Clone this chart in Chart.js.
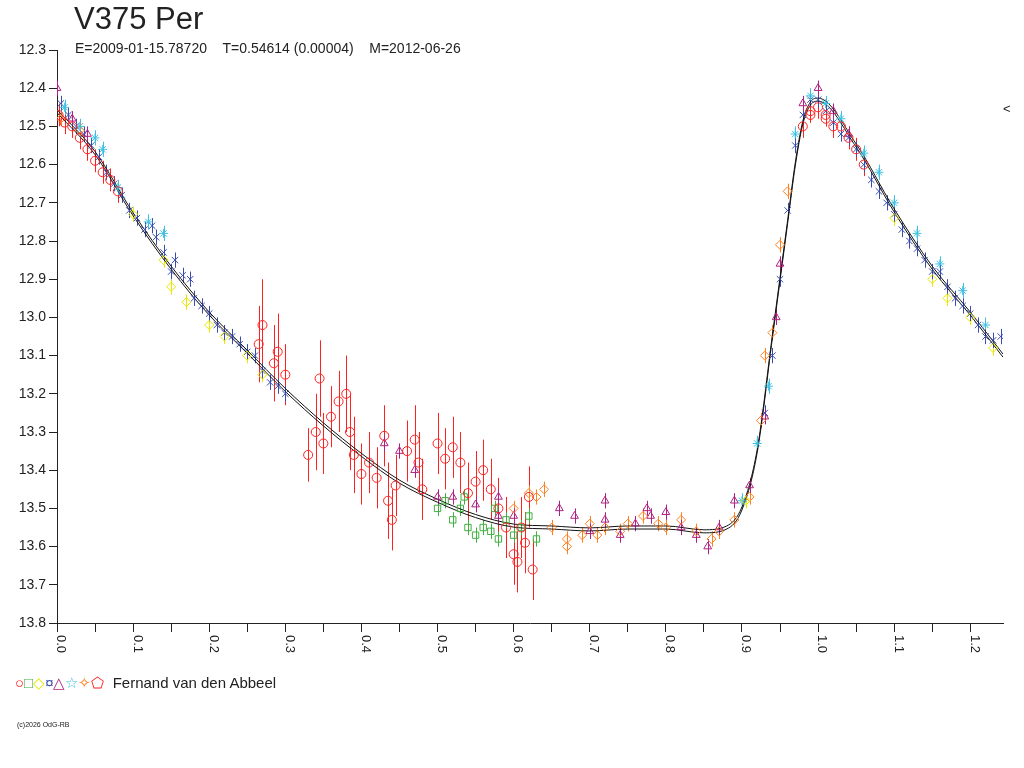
<!DOCTYPE html>
<html>
<head>
<meta charset="utf-8">
<script src="https://cdn.jsdelivr.net/npm/chart.js@4"></script>
<style>
  body { margin: 0; background: #fff; font-family: "Liberation Sans", Arial, sans-serif; color: #222; }
  #wrap { position: relative; width: 1024px; height: 768px; }
  .t { position: absolute; white-space: nowrap; }
</style>
</head>
<body>
<div id="wrap">
  <canvas id="c" width="1024" height="768"></canvas>
  <div class="t" style="left:74px;top:1px;font-size:31px;">V375 Per</div>
  <div class="t" style="left:75px;top:40px;font-size:14px;">E=2009-01-15.78720&nbsp;&nbsp;&nbsp;&nbsp;T=0.54614 (0.00004)&nbsp;&nbsp;&nbsp;&nbsp;M=2012-06-26</div>
  <div class="t" style="left:1003px;top:101px;font-size:13px;">&lt;</div>
  <div class="t" style="left:15px;top:674px;font-size:15px;">
    <span style="color:#ff2020">○</span><span style="color:#40b040">□</span><span style="color:#e8e800">◇</span><span style="color:#3a4cb0">¤</span><span style="color:#b02080">△</span><span style="color:#40c0e0">☆</span><span style="color:#ff8020">✧</span><span style="color:#ff2020">⬠</span>
    <span style="color:#222;margin-left:4px;">Fernand van den Abbeel</span></div>
  <div class="t" style="left:17px;top:721px;font-size:7px;">(c)2026 OdG-RB</div>
</div>
<script>
const xLabels = ['0.0','0.1','0.2','0.3','0.4','0.5','0.6','0.7','0.8','0.9','1.0','1.1','1.2'];

const fitPhase = [0.0,0.05,0.1,0.15,0.2,0.25,0.3,0.35,0.4,0.45,0.5,0.55,0.6,0.65,0.7,0.75,0.8,0.85,0.88,0.9,0.92,0.94,0.96,0.97,0.98,0.99,1.0,1.05,1.1,1.15,1.2,1.243];
const fitMag   = [12.46,12.57,12.73,12.87,12.99,13.09,13.19,13.28,13.36,13.43,13.48,13.52,13.545,13.55,13.555,13.55,13.55,13.56,13.55,13.50,13.35,13.05,12.75,12.60,12.49,12.44,12.43,12.55,12.72,12.87,12.99,13.10];
const fitHalfWidth = 0.004;

const redPts = [[0.002,12.47],[0.01,12.49],[0.02,12.5],[0.03,12.53],[0.04,12.56],[0.05,12.59],[0.06,12.62],[0.07,12.64],[0.08,12.67],
  [0.265,13.07],[0.27,13.02],[0.285,13.12],[0.29,13.09],[0.30,13.15],[0.33,13.36],[0.34,13.3],[0.345,13.16],[0.35,13.33],[0.36,13.26],
  [0.37,13.22],[0.38,13.20],[0.385,13.30],[0.39,13.36],[0.40,13.41],[0.41,13.38],[0.42,13.42],[0.43,13.31],[0.435,13.48],[0.44,13.53],
  [0.445,13.44],[0.46,13.35],[0.47,13.32],[0.475,13.38],[0.48,13.45],[0.50,13.33],[0.51,13.37],[0.52,13.34],[0.53,13.38],[0.54,13.46],
  [0.55,13.43],[0.56,13.40],[0.57,13.45],[0.58,13.50],[0.59,13.55],[0.60,13.62],[0.605,13.64],[0.61,13.55],[0.615,13.59],[0.62,13.47],[0.625,13.66],
  [0.98,12.5],[0.99,12.46],[1.0,12.45],[1.01,12.47],[1.02,12.5],[1.03,12.5],[1.04,12.53],[1.05,12.56],[1.06,12.6]];
const redErr = [0.03,0.03,0.03,0.03,0.03,0.03,0.03,0.03,0.03,
  0.1,0.12,0.1,0.1,0.08,0.07,0.1,0.1,0.08,0.08,0.08,0.1,0.1,0.1,0.08,0.08,0.08,0.08,0.1,0.08,0.08,0.08,0.09,0.08,0.08,0.08,0.08,0.08,0.08,
  0.08,0.08,0.08,0.08,0.08,0.08,0.08,0.08,0.08,0.08,0.08,0.08,
  0.03,0.03,0.03,0.03,0.03,0.03,0.03,0.03,0.03];

const bluePts = [[0.005,12.44],[0.015,12.47],[0.025,12.5],[0.035,12.52],[0.045,12.55],[0.055,12.58],[0.065,12.62],[0.075,12.65],[0.085,12.68],
  [0.095,12.72],[0.105,12.74],[0.115,12.77],[0.125,12.76],[0.13,12.79],[0.14,12.83],[0.15,12.88],[0.155,12.85],[0.165,12.89],[0.175,12.9],
  [0.18,12.95],[0.19,12.97],[0.2,12.99],[0.21,13.02],[0.22,13.04],[0.23,13.05],[0.24,13.07],[0.25,13.09],[0.26,13.1],[0.27,13.14],[0.28,13.17],
  [0.29,13.18],[0.3,13.2],[0.93,13.25],[0.94,13.1],[0.95,12.9],[0.96,12.72],[0.97,12.55],[0.98,12.47],[0.99,12.43],[1.0,12.43],[1.01,12.46],
  [1.02,12.49],[1.03,12.52],[1.04,12.53],[1.05,12.56],[1.06,12.6],[1.07,12.64],[1.08,12.67],[1.09,12.7],[1.1,12.73],[1.11,12.77],[1.12,12.8],
  [1.13,12.82],[1.14,12.85],[1.15,12.88],[1.16,12.88],[1.17,12.92],[1.18,12.95],[1.19,12.97],[1.2,12.99],[1.21,13.02],[1.22,13.05],[1.23,13.06],[1.24,13.05]];
const cyanPts = [[0.01,12.45],[0.03,12.5],[0.05,12.53],[0.06,12.56],[0.08,12.66],[0.12,12.75],[0.14,12.78],[0.9,13.48],[0.92,13.33],[0.935,13.18],
  [0.97,12.52],[0.99,12.42],[1.01,12.44],[1.03,12.48],[1.06,12.57],[1.08,12.62],[1.1,12.7],[1.13,12.78],[1.16,12.86],[1.19,12.93],[1.22,13.02]];
const yellowPts = [[0.1,12.73],[0.14,12.85],[0.15,12.92],[0.17,12.96],[0.2,13.02],[0.22,13.05],[0.25,13.1],[0.27,13.15],[0.905,13.48],
  [1.1,12.74],[1.15,12.9],[1.17,12.95],[1.2,13.0],[1.23,13.08]];
const purplePts = [[0.0,12.4],[0.02,12.48],[0.04,12.52],[0.43,13.33],[0.45,13.35],[0.47,13.4],[0.5,13.47],[0.52,13.47],[0.55,13.49],[0.58,13.52],
  [0.58,13.47],[0.6,13.52],[0.66,13.5],[0.68,13.52],[0.7,13.56],[0.72,13.53],[0.72,13.48],[0.74,13.57],[0.76,13.54],[0.775,13.5],[0.78,13.52],
  [0.8,13.51],[0.82,13.55],[0.84,13.57],[0.855,13.6],[0.87,13.55],[0.89,13.48],[0.91,13.44],[0.93,13.26],[0.945,13.0],[0.95,12.86],
  [0.98,12.44],[1.0,12.4],[1.02,12.46],[1.04,12.52]];
const orangePts = [[0.005,12.48],[0.03,12.51],[0.6,13.5],[0.62,13.46],[0.63,13.47],[0.64,13.45],[0.65,13.55],[0.67,13.58],[0.67,13.6],[0.69,13.57],
  [0.7,13.54],[0.71,13.57],[0.72,13.55],[0.74,13.56],[0.75,13.54],[0.77,13.52],[0.79,13.54],[0.8,13.55],[0.82,13.53],[0.84,13.56],[0.86,13.58],
  [0.87,13.56],[0.89,13.53],[0.91,13.47],[0.925,13.27],[0.93,13.1],[0.94,13.04],[0.95,12.81],[0.96,12.67]];
const greenPts = [[0.5,13.5],[0.51,13.48],[0.52,13.53],[0.53,13.5],[0.535,13.47],[0.54,13.55],[0.55,13.57],[0.56,13.55],[0.57,13.56],[0.575,13.5],
  [0.58,13.58],[0.59,13.53],[0.6,13.57],[0.61,13.55],[0.62,13.52],[0.63,13.58]];
const pentaPts = [[0.99,12.47],[1.01,12.48]];

const toXY = a => a.map(p => ({ x: p[0], y: p[1] }));
const sym = (label, pts, color, style, err) => ({
  label, data: toXY(pts), type: 'scatter', pointStyle: style, pointRadius: 4.5,
  borderColor: color, pointBackgroundColor: 'rgba(0,0,0,0)', pointBorderWidth: 1, err
});

const errorBars = {
  id: 'errorBars',
  beforeDatasetsDraw(chart) {
    const { ctx, scales: { x, y } } = chart;
    ctx.save();
    chart.data.datasets.forEach(ds => {
      if (ds.err === undefined) return;
      ctx.strokeStyle = ds.borderColor;
      ctx.lineWidth = 1;
      ds.data.forEach((p, i) => {
        const e = Array.isArray(ds.err) ? ds.err[i] : ds.err;
        const px = Math.round(x.getPixelForValue(p.x)) + 0.5;
        ctx.beginPath();
        ctx.moveTo(px, y.getPixelForValue(p.y - e));
        ctx.lineTo(px, y.getPixelForValue(p.y + e));
        ctx.stroke();
      });
    });
    ctx.restore();
  }
};

const xTickText = {
  id: 'xTickText',
  afterDraw(chart) {
    const { ctx, scales: { x } } = chart;
    ctx.save();
    ctx.fillStyle = '#222';
    ctx.font = '13px "Liberation Sans", Arial, sans-serif';
    ctx.textBaseline = 'middle';
    xLabels.forEach(l => {
      const px = x.getPixelForValue(parseFloat(l));
      ctx.save();
      ctx.translate(px + 4, x.bottom + 2);
      ctx.rotate(Math.PI / 2);
      ctx.fillText(l, 0, 0);
      ctx.restore();
    });
    ctx.restore();
  }
};

const fitLine = (d) => ({
  type: 'line', data: fitPhase.map((p, i) => ({ x: p, y: fitMag[i] + d })),
  borderColor: '#111', borderWidth: 1, pointRadius: 0, fill: false, cubicInterpolationMode: 'monotone'
});

new Chart(document.getElementById('c'), {
  type: 'scatter',
  data: {
    datasets: [
      sym('red', redPts, '#ff2020', 'circle', redErr),
      sym('green', greenPts, '#40b040', 'rect', 0.02),
      sym('yellow', yellowPts, '#e8e800', 'rectRot', 0.02),
      sym('cyan', cyanPts, '#40c0e0', 'star', 0.02),
      sym('blue', bluePts, '#3a4cb0', 'crossRot', 0.02),
      sym('orange', orangePts, '#ff8020', 'rectRot', 0.02),
      sym('purple', purplePts, '#b02080', 'triangle', 0.02),
      sym('penta', pentaPts, '#ff2020', 'circle', 0.02),
      fitLine(-fitHalfWidth),
      fitLine(fitHalfWidth)
    ]
  },
  options: {
    responsive: false, animation: false,
    layout: { padding: { left: 8, right: 21, top: 50, bottom: 135 } },
    plugins: { legend: { display: false }, tooltip: { enabled: false } },
    scales: {
      x: {
        type: 'linear', min: 0, max: 1.243,
        afterBuildTicks: s => { s.ticks = []; for (let i = 0; i <= 24; i++) s.ticks.push({ value: i * 0.05 }); },
        afterFit: s => { s.height = 10; },
        ticks: { display: false },
        grid: { drawOnChartArea: false, color: '#222', tickLength: 9, tickColor: '#222' },
        border: { color: '#222', width: 1 }
      },
      y: {
        reverse: true, min: 12.3, max: 13.8,
        afterFit: s => { s.width = 49; },
        ticks: { stepSize: 0.1, color: '#222', padding: 3, font: { family: '"Liberation Sans", Arial, sans-serif', size: 14 },
          callback: v => v.toFixed(1) },
        grid: { drawOnChartArea: false, color: '#222', tickLength: 8 },
        border: { color: '#222', width: 1 }
      }
    }
  },
  plugins: [errorBars, xTickText]
});
</script>
</body>
</html>
